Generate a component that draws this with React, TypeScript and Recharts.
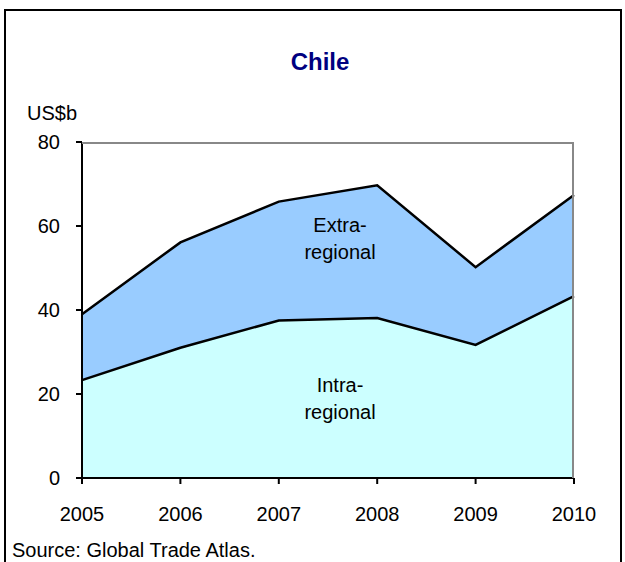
import { ComposedChart, Area, Line, XAxis, YAxis, ResponsiveContainer } from 'recharts';

const years = ['2005', '2006', '2007', '2008', '2009', '2010'];
const intraRegional = [23.3, 31.0, 37.5, 38.1, 31.7, 43.3];
const extraRegional = [15.7, 25.1, 28.3, 31.6, 18.5, 24.1];
const yTicks = [0, 20, 40, 60, 80];

const chartData = years.map((year, i) => ({
  year,
  intra: intraRegional[i],
  extra: extraRegional[i],
  total: intraRegional[i] + extraRegional[i],
}));

const font = '"Liberation Sans", Arial, sans-serif';

const App = () => {
  return (
    <div style={{ position: 'absolute', left: 0, top: 0, width: 625, height: 562, background: '#fff', fontFamily: font, overflow: 'hidden' }}>
      <div style={{ position: 'absolute', left: 4, top: 9, width: 614, height: 600, border: '2px solid #000' }} />
      <div style={{ position: 'absolute', left: 0, width: 640, top: 48, textAlign: 'center', fontSize: 24, fontWeight: 'bold', color: '#000080' }}>
        Chile
      </div>
      <div style={{ position: 'absolute', left: 27, top: 102, fontSize: 20, color: '#000' }}>US$b</div>
      <div style={{ position: 'absolute', left: 0, top: 0 }}>
        <ResponsiveContainer width={625} height={562}>
          <ComposedChart data={chartData} margin={{ top: 142, right: 51, bottom: 54, left: 22 }}>
            <XAxis
              dataKey="year"
              tickLine={{ stroke: '#000', strokeWidth: 2 }}
              axisLine={{ stroke: '#000', strokeWidth: 2 }}
              tick={{ fill: '#000', fontSize: 20, fontFamily: font }}
              tickSize={6}
              tickMargin={23}
              height={30}
              interval={0}
            />
            <YAxis
              domain={[0, 80]}
              ticks={yTicks}
              tickLine={{ stroke: '#000', strokeWidth: 2 }}
              axisLine={{ stroke: '#000', strokeWidth: 2 }}
              tick={{ fill: '#000', fontSize: 20, fontFamily: font }}
              tickSize={6}
              tickMargin={16}
              width={60}
            />
            <Area
              type="linear"
              dataKey="intra"
              stackId="a"
              stroke="none"
              fill="#CCFFFF"
              fillOpacity={1}
              isAnimationActive={false}
            />
            <Area
              type="linear"
              dataKey="extra"
              stackId="a"
              stroke="none"
              fill="#99CCFF"
              fillOpacity={1}
              isAnimationActive={false}
            />
            <Line type="linear" dataKey="intra" stroke="#000" strokeWidth={2.5} dot={false} isAnimationActive={false} />
            <Line type="linear" dataKey="total" stroke="#000" strokeWidth={2.5} dot={false} isAnimationActive={false} />
          </ComposedChart>
        </ResponsiveContainer>
      </div>
      <div style={{ position: 'absolute', left: 82, top: 142, width: 492, height: 336, borderTop: '2px solid #888', borderRight: '2px solid #888', boxSizing: 'border-box', pointerEvents: 'none' }} />
      <div style={{ position: 'absolute', left: 280, width: 120, top: 212, textAlign: 'center', fontSize: 20, lineHeight: '27px', color: '#000' }}>
        Extra-<br />regional
      </div>
      <div style={{ position: 'absolute', left: 280, width: 120, top: 372, textAlign: 'center', fontSize: 20, lineHeight: '27px', color: '#000' }}>
        Intra-<br />regional
      </div>
      <div style={{ position: 'absolute', left: 12, top: 539, fontSize: 20, color: '#000' }}>Source: Global Trade Atlas.</div>
    </div>
  );
};

export default App;
